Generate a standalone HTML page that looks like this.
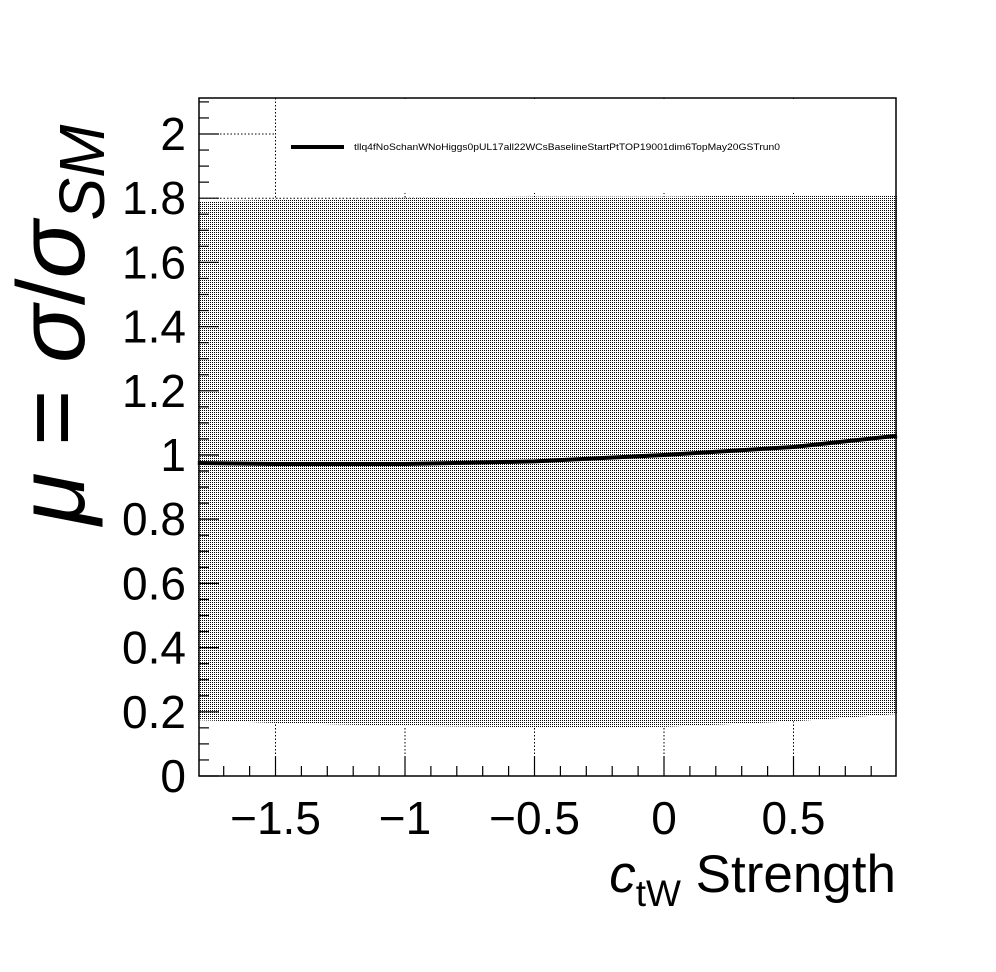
<!DOCTYPE html>
<html><head><meta charset="utf-8"><style>body{margin:0;background:#fff}svg{display:block;font-family:"Liberation Sans",sans-serif}</style></head>
<body>
<svg id="c" width="996" height="972">
<defs><pattern id="dots" width="2" height="2" patternUnits="userSpaceOnUse"><rect width="2" height="2" fill="#fff"/><rect width="1" height="1" fill="#000"/></pattern></defs>
<g id="grid"></g>
<path id="band" fill="url(#dots)"></path>
<rect x="276" y="99" width="619" height="94" fill="#fff"/>
<path id="curve" fill="none" stroke="#000" stroke-width="4"></path>
<rect x="199" y="98" width="697" height="678" fill="none" stroke="#000" stroke-width="1.5"/>
<g id="ticks"></g>
<line x1="291" y1="147" x2="344" y2="147" stroke="#000" stroke-width="4"/>
<text x="354" y="150" font-size="9.5" textLength="426" lengthAdjust="spacingAndGlyphs">tllq4fNoSchanWNoHiggs0pUL17all22WCsBaselineStartPtTOP19001dim6TopMay20GSTrun0</text>
<text transform="translate(84,525) rotate(-90)" font-size="96"><tspan font-style="italic">μ</tspan> = <tspan font-style="italic">σ</tspan>/<tspan font-style="italic">σ</tspan><tspan font-size="64" dy="20" font-style="italic">SM</tspan></text>
<text x="896" y="892" text-anchor="end" font-size="53"><tspan font-style="italic">c</tspan><tspan font-size="37" dy="14">tW</tspan><tspan dy="-14"> Strength</tspan></text>
</svg>
<script>
const xs=[-1.8,-1.5,-1,-0.5,0,0.5,0.9];
const mu=[0.975,0.972,0.972,0.98,1.0,1.025,1.06];
const lo=[0.174,0.165,0.156,0.152,0.153,0.17,0.193];
const hi=[1.79,1.795,1.8,1.805,1.805,1.81,1.81];
const xTicks=[-1.5,-1,-0.5,0,0.5];
const xTickLabels=["\u22121.5","\u22121","\u22120.5","0","0.5"];
const yTicks=[0,0.2,0.4,0.6,0.8,1,1.2,1.4,1.6,1.8,2];
const yTickLabels=["0","0.2","0.4","0.6","0.8","1","1.2","1.4","1.6","1.8","2"];
const X=v=>664+v*259, Y=v=>776-v*321;
const NS="http://www.w3.org/2000/svg";
function mk(t,a,p){const e=document.createElementNS(NS,t);for(const k in a)e.setAttribute(k,a[k]);p.appendChild(e);return e;}
const g=document.getElementById('grid'),tk=document.getElementById('ticks');
xTicks.forEach((v,i)=>{const l=mk('line',{x1:X(v),x2:X(v),y1:98,y2:776,stroke:'#000','stroke-dasharray':'1.5,2'},g);

const t=mk('text',{x:X(v),y:834,'text-anchor':'middle','font-size':46},tk);t.textContent=xTickLabels[i];
});
yTicks.forEach((v,i)=>{if(v>0&&v<2.1){const l=mk('line',{x1:199,x2:896,y1:Y(v),y2:Y(v),stroke:'#000','stroke-dasharray':'1.5,2'},g);
}
const t=mk('text',{x:186,y:Y(v)+16,'text-anchor':'end','font-size':46},tk);t.textContent=yTickLabels[i];
});
for(let k=-18;k<=9;k++){const v=k/10,maj=k%5===0;if(X(v)<199||X(v)>896)continue;
const l=mk('line',{x1:X(v),x2:X(v),y1:776,y2:776-(maj?20:10),stroke:'#000','stroke-width':1.2},tk);
}
for(let k=0;k<=42;k++){const v=k*0.05,maj=k%4===0;const l=mk('line',{x1:199,x2:199+(maj?20:10),y1:Y(v),y2:Y(v),stroke:'#000','stroke-width':1.2},tk);
}
let d='M'+xs.map((x,i)=>X(x)+','+Y(hi[i])).join('L');
for(let i=xs.length-1;i>=0;i--)d+='L'+X(xs[i])+','+Y(lo[i]);
document.getElementById('band').setAttribute('d',d+'Z');
document.getElementById('curve').setAttribute('d','M'+xs.map((x,i)=>X(x)+','+Y(mu[i])).join('L'));
</script>
</body></html>
